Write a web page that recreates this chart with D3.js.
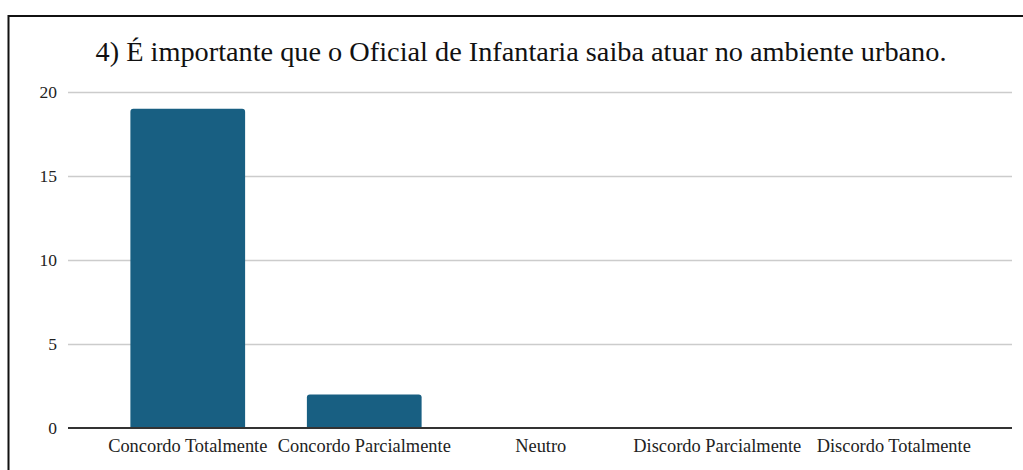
<!DOCTYPE html>
<html>
<head>
<meta charset="utf-8">
<script src="https://cdn.jsdelivr.net/npm/d3@7"></script>
<style>
  body { margin: 0; background: #fff; }
</style>
</head>
<body>
<div class="canvas"></div>
<script>
// chart data
const categories = ['Concordo Totalmente', 'Concordo Parcialmente', 'Neutro', 'Discordo Parcialmente', 'Discordo Totalmente'];
const counts = [19, 2, 0, 0, 0];
const yTicks = [0, 5, 10, 15, 20];
const title = '4) É importante que o Oficial de Infantaria saiba atuar no ambiente urbano.';

const width = 1023;
const height = 470;
const serif = '"Liberation Serif", "Times New Roman", serif';

const svg = d3.select('.canvas')
  .append('svg')
    .attr('width', width)
    .attr('height', height)
    .style('display', 'block');

// frame around the chart (cut off at right and bottom)
svg.append('rect')
  .attr('x', 8.5)
  .attr('y', 16)
  .attr('width', 1100)
  .attr('height', 600)
  .attr('fill', 'none')
  .attr('stroke', '#111')
  .attr('stroke-width', 2);

svg.append('text')
  .attr('x', 521)
  .attr('y', 61)
  .attr('text-anchor', 'middle')
  .attr('font-family', serif)
  .attr('font-size', 28.3)
  .attr('fill', '#111')
  .text(title);

// plot area
const plot = {left: 68, right: 1012, top: 92, bottom: 428};

const y = d3.scaleLinear()
  .domain([0, 20])
  .range([plot.bottom, plot.top]);

const x = d3.scaleBand()
  .domain(categories)
  .range([99.5, 982])
  .paddingInner(0.35)
  .paddingOuter(0.175);

// gridlines
svg.append('g')
  .selectAll('line')
  .data(yTicks.filter(d => d > 0))
  .enter()
  .append('line')
    .attr('x1', plot.left)
    .attr('x2', plot.right)
    .attr('y1', d => Math.round(y(d)) + 0.5)
    .attr('y2', d => Math.round(y(d)) + 0.5)
    .attr('stroke', '#cccccc')
    .attr('stroke-width', 1.5);

// y axis labels
const yAxis = d3.axisLeft(y)
  .tickValues(yTicks)
  .tickSize(0)
  .tickPadding(11);

const yAxisGroup = svg.append('g')
  .attr('transform', `translate(${plot.left}, 0)`)
  .call(yAxis);
yAxisGroup.select('.domain').remove();
yAxisGroup.selectAll('text')
  .attr('font-family', serif)
  .attr('font-size', 17.5)
  .attr('fill', '#222');

// bars with rounded top corners
const r = 3;
svg.append('g')
  .selectAll('path')
  .data(categories.map((c, i) => ({name: c, value: counts[i]})).filter(d => d.value > 0))
  .enter()
  .append('path')
    .attr('fill', '#185f82')
    .attr('d', d => {
      const x0 = x(d.name), x1 = x0 + x.bandwidth();
      const yt = y(d.value), yb = y(0);
      return `M${x0},${yb}V${yt + r}Q${x0},${yt} ${x0 + r},${yt}H${x1 - r}Q${x1},${yt} ${x1},${yt + r}V${yb}Z`;
    });

// baseline
svg.append('line')
  .attr('x1', plot.left)
  .attr('x2', plot.right)
  .attr('y1', y(0))
  .attr('y2', y(0))
  .attr('stroke', '#333')
  .attr('stroke-width', 2);

// x axis labels
const xAxis = d3.axisBottom(x)
  .tickSize(0)
  .tickPadding(11);

const xAxisGroup = svg.append('g')
  .attr('transform', `translate(0, ${y(0)})`)
  .call(xAxis);
xAxisGroup.select('.domain').remove();
xAxisGroup.selectAll('text')
  .attr('font-family', serif)
  .attr('font-size', 18.4)
  .attr('fill', '#222');
</script>
</body>
</html>
